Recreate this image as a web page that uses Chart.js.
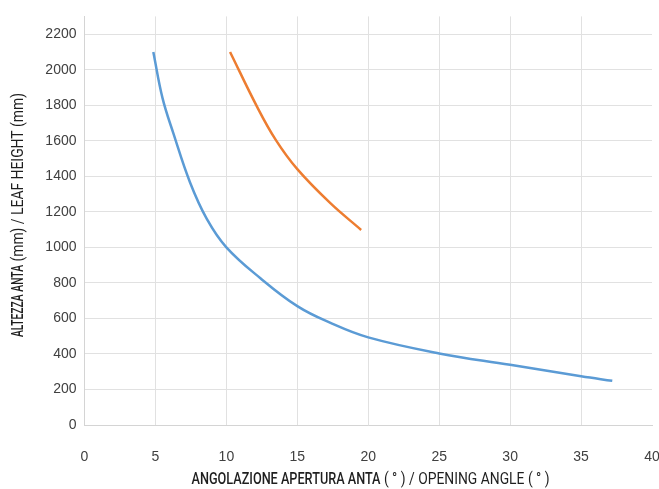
<!DOCTYPE html>
<html>
<head>
<meta charset="utf-8">
<script src="https://cdn.jsdelivr.net/npm/chart.js@4/dist/chart.umd.min.js"></script>
<style>
  html, body { margin: 0; padding: 0; background: #fff; overflow: hidden; }
</style>
</head>
<body>
<canvas id="angle" width="659" height="489"></canvas>
<script>
// leaf height vs opening angle
var blueAngle  = [4.85, 5.5, 6.26, 7.44, 8.62, 10.0, 12.4, 15.0, 17.3, 20.0, 25.0, 30.0, 35.0, 37.2];
var blueHeight = [2100, 1840, 1643, 1365, 1160, 1000, 826, 669, 576, 493, 403, 339, 274, 249];

var orangeAngle  = [10.26, 12.14, 13.48, 15.0, 17.31, 19.5];
var orangeHeight = [2100, 1795, 1605, 1440, 1250, 1098];

var xTicks = [0, 5, 10, 15, 20, 25, 30, 35, 40];
var yTicks = [0, 200, 400, 600, 800, 1000, 1200, 1400, 1600, 1800, 2000, 2200];

var xTitle = ['ANGOLAZIONE APERTURA ANTA', ' ( \u00b0 ) / OPENING ANGLE ( \u00b0 )'];
var yTitle = ['ALTEZZA ANTA', ' (mm) / LEAF HEIGHT (mm)'];

function toPoints(xs, ys) {
  return xs.map(function(x, i) { return {x: x, y: ys[i]}; });
}

var gridColor = '#e1e1e1';
var tickFont = {family: 'Liberation Sans, Arial, sans-serif', size: 14};

// axis titles: first part medium, second normal, each squeezed to look condensed
var axisTitles = {
  id: 'axisTitles',
  afterDraw: function(chart) {
    var ctx = chart.ctx;
    var fonts = ['500 16px Roboto, "Liberation Sans", sans-serif', '16px Roboto, "Liberation Sans", sans-serif'];
    function draw(parts, x0, cy, rot, widths) {
      ctx.save();
      ctx.translate(x0, cy);
      ctx.rotate(rot);
      ctx.fillStyle = '#1f1f1f';
      ctx.textBaseline = 'middle';
      ctx.textAlign = 'left';
      var x = 0;
      parts.forEach(function(p, i) {
        ctx.font = fonts[i];
        var w = ctx.measureText(p).width;
        ctx.save();
        ctx.translate(x, 0);
        ctx.scale(widths[i] / w, 1);
        ctx.fillText(p, 0, 0);
        ctx.restore();
        x += widths[i];
      });
      ctx.restore();
    }
    draw(xTitle, 191.5, 480, 0, [189, 169]);
    draw(yTitle, 19, 337, -Math.PI / 2, [72, 172]);
  }
};

new Chart(document.getElementById('angle').getContext('2d'), {
  type: 'scatter',
  data: {
    datasets: [
      {
        data: toPoints(blueAngle, blueHeight),
        showLine: true,
        borderColor: '#5b9bd5',
        backgroundColor: '#5b9bd5',
        borderWidth: 2.5,
        pointRadius: 0,
        tension: 0.4
      },
      {
        data: toPoints(orangeAngle, orangeHeight),
        showLine: true,
        borderColor: '#ed7d31',
        backgroundColor: '#ed7d31',
        borderWidth: 2.5,
        pointRadius: 0,
        tension: 0.4
      }
    ]
  },
  options: {
    responsive: false,
    animation: false,
    layout: {autoPadding: false, padding: {top: 12, right: 7, left: 0, bottom: 0}},
    plugins: {legend: {display: false}, tooltip: {enabled: false}},
    scales: {
      x: {
        type: 'linear',
        min: 0,
        max: 40,
        afterBuildTicks: function(scale) {
          scale.ticks = xTicks.map(function(v) { return {value: v}; });
        },
        afterFit: function(scale) {
          scale.height = 64;
          scale.paddingLeft = 0;
          scale.paddingRight = 0;
        },
        grid: {
          color: function(c) { return c.tick && c.tick.value === 40 ? 'rgba(0,0,0,0)' : gridColor; },
          drawTicks: false
        },
        border: {color: '#d4d4d4'},
        ticks: {font: tickFont, color: '#404040', padding: 24, maxRotation: 0,
                callback: function(v) { return String(v); }}
      },
      y: {
        min: 0,
        max: 2300,
        afterBuildTicks: function(scale) {
          scale.ticks = yTicks.map(function(v) { return {value: v}; });
        },
        afterFit: function(scale) { scale.width = 84.5; },
        grid: {color: gridColor, drawTicks: false},
        border: {color: '#d4d4d4'},
        ticks: {font: tickFont, color: '#404040', padding: 8,
                callback: function(v) { return String(v); }}
      }
    }
  },
  plugins: [axisTitles]
});
</script>
</body>
</html>
